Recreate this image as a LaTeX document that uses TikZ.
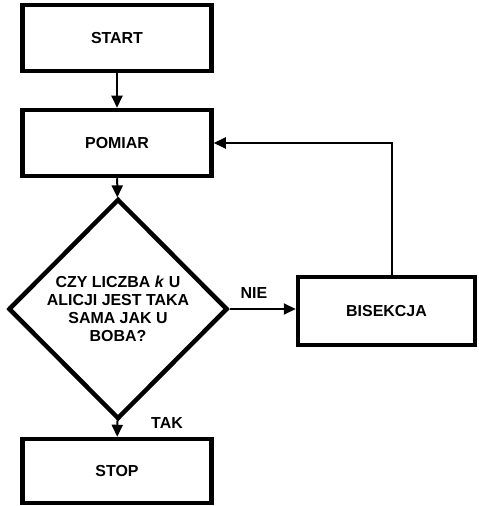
\documentclass[tikz,border=0pt]{standalone}
\usepackage{fontspec}
\setmainfont{Liberation Sans}
\usetikzlibrary{shapes.geometric,arrows.meta}

\begin{document}
\begin{tikzpicture}[x=1bp,y=-1bp,
		blok/.style={draw,line width=4.5bp,minimum width=189bp,minimum height=66bp,inner sep=0pt,font=\bfseries\fontsize{16}{18}\selectfont},
		decyzja/.style={draw,diamond,aspect=1,line width=4.5bp,minimum width=219bp,minimum height=220bp,inner sep=0pt,align=center,font=\bfseries\fontsize{16}{18}\selectfont},
		strzalka/.style={line width=2bp,-{Triangle[length=12bp,width=11bp]}},
		etykieta/.style={font=\bfseries\fontsize{16}{18}\selectfont}]
	\useasboundingbox (0,0) rectangle (479,506);
	\node[blok] (start) at (117,38) {START};
	\node[blok] (pomiar) at (117,143) {POMIAR};
	\node[decyzja] (pyt) at (118,309) {CZY LICZBA \textit{k} U\\ALICJI JEST TAKA\\SAMA JAK U\\BOBA?};
	\node[blok] (stop) at (117,471) [minimum height=64bp] {STOP};
	\node[blok] (bis) at (386.5,311) [minimum width=177bp,minimum height=68bp] {BISEKCJA};
	\draw[strzalka] (start) -- (pomiar);
	\draw[strzalka] (pomiar) -- (pyt);
	\draw[strzalka] (pyt) -- (stop);
	\draw[strzalka] (pyt.east) -- (pyt.east -| bis.west);
	\draw[strzalka] ([xshift=5bp]bis.north) |- (pomiar.east);
	\node[etykieta] (nie) at (254,293) {NIE};
	\node[etykieta] (tak) at (167,423) {TAK};
\end{tikzpicture}
\end{document}
